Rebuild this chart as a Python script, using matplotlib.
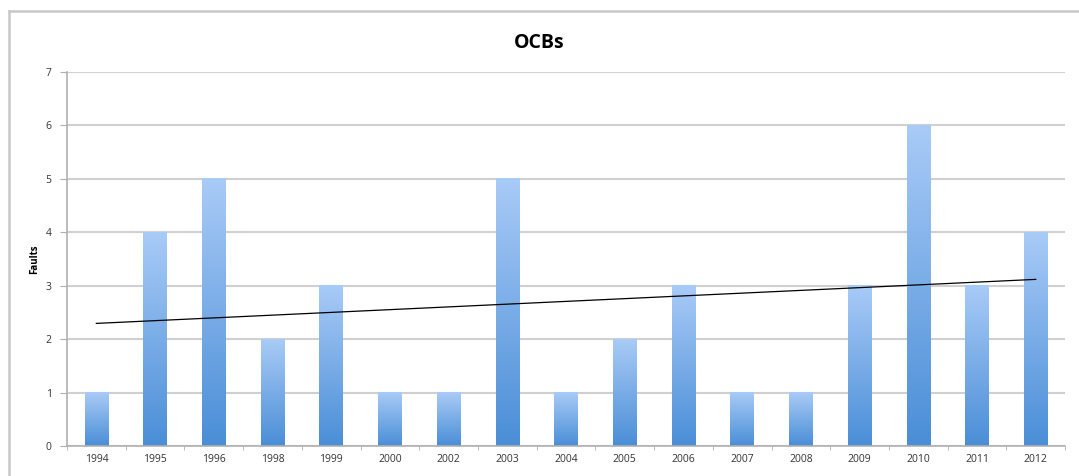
import matplotlib
matplotlib.use("Agg")
import matplotlib.pyplot as plt
import numpy as np
from matplotlib.colors import LinearSegmentedColormap
from matplotlib.lines import Line2D

years = ["1994", "1995", "1996", "1998", "1999", "2000", "2002", "2003", "2004",
         "2005", "2006", "2007", "2008", "2009", "2010", "2011", "2012"]
faults = [1, 4, 5, 2, 3, 1, 1, 5, 1, 2, 3, 1, 1, 3, 6, 3, 4]
y_ticks = [0, 1, 2, 3, 4, 5, 6, 7]

plt.rcParams['font.family'] = ['Open Sans', 'DejaVu Sans']

fig = plt.figure(figsize=(10.79, 4.76), dpi=100)
ax = fig.add_axes([0.0621, 0.063, 0.925, 0.786])

# outer frame (top and left edges visible)
fx = 8.5 / 1079
fy = 1 - 10.5 / 476
fig.lines.append(Line2D([fx, fx], [0, fy], transform=fig.transFigure,
                        color='#c8c8c8', linewidth=1.8))
fig.lines.append(Line2D([fx, 1], [fy, fy], transform=fig.transFigure,
                        color='#c8c8c8', linewidth=1.8))

x = np.arange(len(years))
width = 0.4
cmap = LinearSegmentedColormap.from_list("g", ["#4a8ed7", "#a9cbf7"])
grad = np.linspace(0, 1, 256).reshape(-1, 1)
for xi, h in zip(x, faults):
    ax.imshow(grad, extent=(xi - width / 2, xi + width / 2, 0, h), origin='lower',
              cmap=cmap, aspect='auto', zorder=2, interpolation='bilinear')

# linear trendline
coef = np.polyfit(x, faults, 1)
ax.plot(x, np.polyval(coef, x), color='black', linewidth=0.9, zorder=3)

ax.set_xlim(-0.5, len(years) - 0.5)
ax.set_ylim(0, 7)
ax.set_yticks(y_ticks)
ax.set_yticklabels([str(t) for t in y_ticks], fontsize=7.5, color='#333333')
ax.set_xticks(x)
ax.set_xticklabels(years, fontsize=7.5, color='#333333')
ax.set_xticks(np.arange(len(years) + 1) - 0.5, minor=True)
ax.tick_params(axis='x', which='major', length=0, pad=6)
ax.tick_params(axis='x', which='minor', length=3, color='#b0b0b0', direction='out')
ax.tick_params(axis='y', length=5, color='#b0b0b0', pad=6)

ax.grid(axis='y', color='#d0d0d0', linewidth=1.5, zorder=1)
ax.set_axisbelow(True)
for s in ['top', 'right']:
    ax.spines[s].set_visible(False)
for s in ['left', 'bottom']:
    ax.spines[s].set_color('#b0b0b0')
    ax.spines[s].set_linewidth(1.2)

ax.set_ylabel("Faults", fontsize=7, fontweight='bold', labelpad=4)
fig.text(0.5, 1 - 43 / 476, "OCBs", ha='center', va='center', fontsize=14, fontweight='bold')

fig.savefig("out.png", dpi=100)
